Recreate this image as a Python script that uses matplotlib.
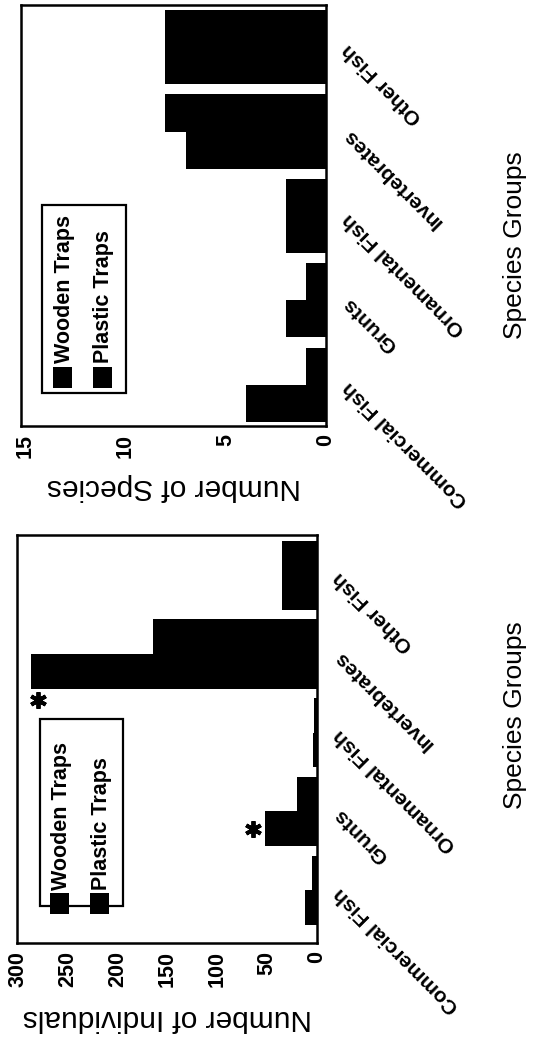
import matplotlib
matplotlib.use("Agg")
import matplotlib.pyplot as plt
from matplotlib.patches import Rectangle
import numpy as np

plt.rcParams["font.family"] = ["Liberation Sans", "DejaVu Sans"]
plt.rcParams["font.weight"] = "bold"

# ---------------------------------------------------------------------------
# data (page is printed rotated 90 deg, so bars run right -> left)
# ---------------------------------------------------------------------------
CATEGORIES = ["Commercial Fish", "Grunts", "Ornamental Fish",
              "Invertebrates", "Other Fish"]

SPECIES_WOODEN = [4, 2, 2, 7, 8]
SPECIES_PLASTIC = [1, 1, 2, 8, 8]
SPECIES_TICKS = [0, 5, 10, 15]

INDIV_WOODEN = [12, 52, 4, 287, 35]
INDIV_PLASTIC = [5, 20, 3, 165, 35]
INDIV_TICKS = [0, 50, 100, 150, 200, 250, 300]

# significant differences: (category index, offset, value)
INDIV_STARS = [(1, -0.22, 64), (3, -0.58, 280)]

LEGEND_LABELS = ["Wooden Traps", "Plastic Traps"]

W, H = 536, 1037
BAR_H = 0.44


def px_rect(left, top, right, bottom):
    return [left / W, 1 - bottom / H, (right - left) / W, (bottom - top) / H]


def draw_panel(ax, wooden, plastic, ticks, xlim, ylim, xlabel, xlabel_y):
    y = np.arange(len(CATEGORIES))
    ax.barh(y - BAR_H / 2, wooden, height=BAR_H, color="black", linewidth=0)
    ax.barh(y + BAR_H / 2, plastic, height=BAR_H, color="black", linewidth=0)

    ax.set_xlim(*xlim)
    ax.set_ylim(*ylim)
    ax.set_xticks(ticks)
    ax.set_xticklabels([str(t) for t in ticks], rotation=90, fontsize=15.5)
    ax.tick_params(axis="x", length=0, pad=6)

    ax.yaxis.tick_right()
    ax.set_yticks(y)
    ax.set_yticklabels(CATEGORIES, rotation=135, ha="right", va="center",
                       rotation_mode="anchor", fontsize=15)
    ax.tick_params(axis="y", length=0, pad=14)

    for s in ax.spines.values():
        s.set_linewidth(1.8)

    ax.set_xlabel(xlabel, rotation=180, fontsize=21.5, va="center")
    ax.xaxis.set_label_coords(0.5, xlabel_y)


def draw_legend(ax, box, squares_x, text_x, sq_y, text_y):
    # box = (x0, y0, x1, y1) in axes coords
    x0, y0, x1, y1 = box
    ax.add_patch(Rectangle((x0, y0), x1 - x0, y1 - y0, transform=ax.transAxes,
                           facecolor="white", edgecolor="black", lw=1.6,
                           zorder=3))
    for sx, tx, lab in zip(squares_x, text_x, LEGEND_LABELS):
        ax.add_patch(Rectangle((sx, sq_y[0]), 0.062, sq_y[1] - sq_y[0],
                               transform=ax.transAxes, facecolor="black",
                               edgecolor="none", zorder=4))
        ax.text(tx, text_y, lab, transform=ax.transAxes, rotation=90,
                rotation_mode="anchor", ha="left", va="center",
                fontsize=15.5, zorder=5)


fig = plt.figure(figsize=(W / 100, H / 100), dpi=100)

# top panel: number of species
ax1 = fig.add_axes(px_rect(21, 5, 326, 426))
draw_panel(ax1, SPECIES_WOODEN, SPECIES_PLASTIC, SPECIES_TICKS,
           (15.2, 0), (-0.49, 4.5), "Number of Species", -0.145)
draw_legend(ax1, (0.069, 0.078, 0.344, 0.525), (0.105, 0.236),
            (0.141, 0.272), (0.09, 0.14), 0.15)

# bottom panel: number of individuals
ax2 = fig.add_axes(px_rect(17, 535, 317, 943))
draw_panel(ax2, INDIV_WOODEN, INDIV_PLASTIC, INDIV_TICKS,
           (301, 0), (-0.67, 4.51), "Number of Individuals", -0.184)
draw_legend(ax2, (0.077, 0.09, 0.353, 0.548), (0.11, 0.243),
            (0.147, 0.28), (0.07, 0.122), 0.13)

for idx, off, val in INDIV_STARS:
    ax2.plot(val, idx + off, marker=(6, 2, 0), markersize=12,
             markeredgewidth=2.8, color="black", clip_on=False)

# x-axis titles of the original (rotated) layout
for yc in (245, 715):
    fig.text(515 / W, 1 - yc / H, "Species Groups", rotation=90,
             fontsize=19, fontweight="normal", ha="center", va="center")

fig.savefig("out.png", dpi=100)
